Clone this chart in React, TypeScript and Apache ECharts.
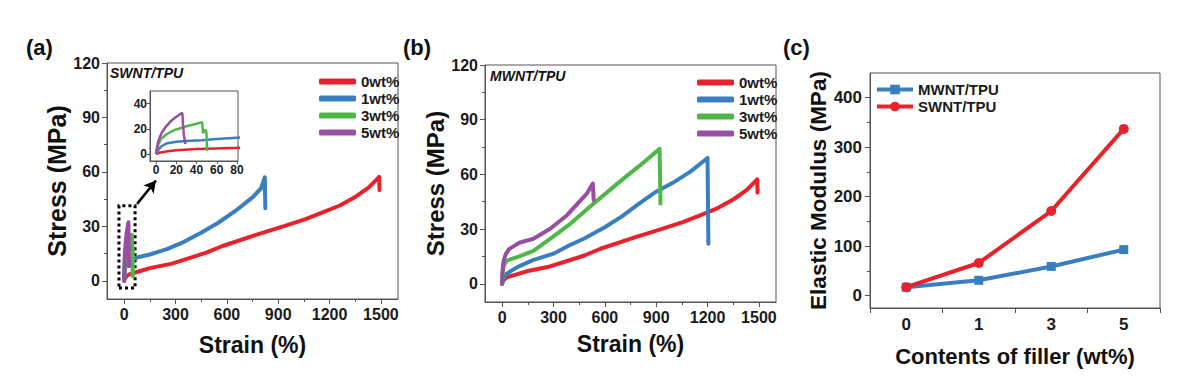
import React, { useEffect, useRef } from 'react';
import * as echarts from 'echarts';

const FONT = 'Liberation Sans, Arial, Helvetica, sans-serif';

const wtLabels = ['0wt%', '1wt%', '3wt%', '5wt%'];
const wtColors = ['#e8222b', '#3a7ec2', '#4fb748', '#984fa2'];

// neat TPU (0 wt%), same sample in (a) and (b)
const neatTPU: number[][] = [
  [0, 0], [3, 1], [10, 2], [20, 3], [40, 4], [60, 4.5], [80, 5], [150, 7], [280, 9.5],
  [380, 12.5], [480, 15.5], [575, 19.2], [770, 25.3], [930, 30], [1060, 34], [1160, 37.7],
  [1260, 41.5], [1355, 46.5], [1430, 51.5], [1490, 57.3], [1492, 50],
];
const swnt1: number[][] = [
  [0, 0], [2, 3], [5, 6], [10, 8.3], [20, 9.8], [30, 10.3], [45, 11], [60, 12], [80, 13],
  [150, 14.5], [250, 17.5], [350, 21.5], [450, 26.5], [550, 32], [650, 38.5], [750, 46],
  [800, 51], [822, 57], [825, 40],
];
const swnt3: number[][] = [
  [0, 0], [1, 5], [3, 9], [5, 12], [10, 15.5], [15, 17.8], [20, 19.5], [30, 22], [40, 24],
  [45.5, 25.3], [46.5, 16.5], [47.5, 18.5], [49, 19.2], [49.8, 17], [50.5, 2.5],
];
const swnt5: number[][] = [
  [0, 0], [1, 5], [2, 9.5], [4, 14], [6, 17.5], [10, 22], [15, 26.5], [20, 29.5], [25, 32.3],
  [26, 32.5], [26.5, 25], [27.5, 15], [29, 8],
];
const mwnt1: number[][] = [
  [0, 0], [10, 3], [27, 5.5], [86, 9], [180, 13], [300, 16.5], [380, 20.5], [477, 24.7],
  [600, 31], [700, 37], [800, 44], [900, 50.5], [1000, 55.5], [1100, 61.5], [1200, 69], [1205, 22],
];
const mwnt3: number[][] = [
  [0, 0], [3, 6], [10, 10], [27, 12.7], [100, 15], [183, 18], [300, 26], [400, 33],
  [535, 44], [700, 57], [800, 64.5], [920, 74], [925, 44],
];
const mwnt5: number[][] = [
  [0, 0], [2, 6], [5, 10], [10, 13], [20, 16], [40, 19], [66, 20.5], [100, 22.5],
  [183, 24.7], [281, 30.2], [379, 37.6], [496, 49.6], [530, 55], [535, 46],
];

const fillerCats = ['0', '1', '3', '5'];
const mwntModulus = [17, 31, 59, 93];
const swntModulus = [17, 66, 171, 337];

const strainTicks = [0, 300, 600, 900, 1200, 1500];
const strainMinor = [150, 450, 750, 1050, 1350];
const stressTicks = [0, 30, 60, 90, 120];
const stressMinor = [15, 45, 75, 105];
const insetXTicks = [0, 20, 40, 60, 80];
const insetYTicks = [0, 20, 40];
const modulusTicks = [0, 100, 200, 300, 400];
const modulusMinor = [50, 150, 250, 350];

const AX = '#555';
const LBL = { fontFamily: FONT, fontWeight: 'bold' as const, color: '#1a1a1a' };
const plain = (v: number) => String(v);

function mainAxis(gridIndex: number, min: number, max: number, ticks: number[], isY: boolean,
  opts: { name?: string; nameGap?: number; nameSize?: number; fontSize?: number; margin?: number; tickLen?: number }) {
  return {
    type: 'value', gridIndex, min, max, position: isY ? 'left' : 'bottom',
    name: opts.name, nameLocation: 'middle', nameGap: opts.nameGap,
    nameTextStyle: { ...LBL, fontSize: opts.nameSize ?? 22, color: '#111' },
    axisLine: { show: true, onZero: false, lineStyle: { color: AX, width: 1 } },
    axisTick: { show: true, length: opts.tickLen ?? 5, customValues: ticks, lineStyle: { color: AX } },
    axisLabel: { show: true, customValues: ticks, formatter: plain, margin: opts.margin ?? 7, fontSize: opts.fontSize ?? 16, ...LBL },
    splitLine: { show: false },
  };
}
function minorAxis(gridIndex: number, min: number, max: number, ticks: number[], isY: boolean) {
  return {
    type: 'value', gridIndex, min, max, position: isY ? 'left' : 'bottom',
    axisLine: { show: false, onZero: false },
    axisTick: { show: true, length: 3, customValues: ticks, lineStyle: { color: AX } },
    axisLabel: { show: false },
    splitLine: { show: false },
  };
}

function curve(name: string, color: string, data: number[][], xi: number, yi: number, extra: any = {}) {
  return {
    type: 'line', name, data, xAxisIndex: xi, yAxisIndex: yi, showSymbol: false, symbol: 'none',
    color, lineStyle: { width: 4, color, cap: 'round', join: 'round' }, silent: true, ...extra,
  };
}

export default function App() {
  const ref = useRef<HTMLDivElement>(null);
  useEffect(() => {
    const chart = echarts.init(ref.current!, null, { renderer: 'svg' });
    const gridStyle = { show: true, borderColor: AX, borderWidth: 1, backgroundColor: 'transparent' };
    const legendCommon = {
      orient: 'vertical', icon: 'roundRect', itemWidth: 37, itemHeight: 6, itemGap: 2,
      textStyle: { ...LBL, fontSize: 15 }, selectedMode: false,
    };
    const option: any = {
      animation: false,
      textStyle: { fontFamily: FONT },
      grid: [
        { left: 107, top: 63, width: 291, height: 236, ...gridStyle },
        { left: 485, top: 65, width: 291, height: 237, ...gridStyle },
        { left: 150, top: 91, width: 88, height: 70, ...gridStyle, backgroundColor: '#fff' },
        { left: 870, top: 73, width: 290, height: 235, ...gridStyle },
      ],
      xAxis: [
        mainAxis(0, -100, 1600, strainTicks, false, { name: 'Strain (%)', nameGap: 34, nameSize: 23 }),
        minorAxis(0, -100, 1600, strainMinor, false),
        mainAxis(1, -100, 1600, strainTicks, false, { name: 'Strain (%)', nameGap: 30, nameSize: 23 }),
        minorAxis(1, -100, 1600, strainMinor, false),
        mainAxis(2, -6, 81, insetXTicks, false, { fontSize: 12, margin: 3, tickLen: 3 }),
        {
          type: 'category', gridIndex: 3, data: fillerCats, boundaryGap: true, position: 'bottom',
          name: 'Contents of filler (wt%)', nameLocation: 'middle', nameGap: 37,
          nameTextStyle: { ...LBL, fontSize: 22, color: '#111' },
          axisLine: { show: true, onZero: false, lineStyle: { color: AX } },
          axisTick: { show: true, length: 5, lineStyle: { color: AX } },
          axisLabel: { margin: 8, fontSize: 17, ...LBL },
          splitLine: { show: false },
        },
      ],
      yAxis: [
        mainAxis(0, -10, 120, stressTicks, true, { name: 'Stress (MPa)', nameGap: 36, nameSize: 25 }),
        minorAxis(0, -10, 120, stressMinor, true),
        mainAxis(1, -10, 120, stressTicks, true, { name: 'Stress (MPa)', nameGap: 35, nameSize: 24 }),
        minorAxis(1, -10, 120, stressMinor, true),
        mainAxis(2, -5.5, 50, insetYTicks, true, { fontSize: 12, margin: 3, tickLen: 3 }),
        mainAxis(3, -25, 450, modulusTicks, true, { name: 'Elastic Modulus (MPa)', nameGap: 37, nameSize: 22.5, margin: 8, fontSize: 17 }),
        minorAxis(3, -25, 450, modulusMinor, true),
      ],
      legend: [
        { ...legendCommon, left: 314, top: 69, data: wtLabels },
        { ...legendCommon, left: 692, top: 70, data: wtLabels },
        {
          orient: 'vertical', left: 870, top: 77, itemWidth: 36, itemHeight: 12, itemGap: 2,
          textStyle: { ...LBL, fontSize: 15 }, selectedMode: false,
          lineStyle: { width: 4 }, itemStyle: { borderWidth: 0 },
          data: ['MWNT/TPU', 'SWNT/TPU'],
        },
      ],
      graphic: [
        { type: 'text', left: 26, top: 36, style: { text: '(a)', font: `bold 22px ${FONT}`, fill: '#111' } },
        { type: 'text', left: 403, top: 36, style: { text: '(b)', font: `bold 22px ${FONT}`, fill: '#111' } },
        { type: 'text', left: 783, top: 36, style: { text: '(c)', font: `bold 22px ${FONT}`, fill: '#111' } },
        { type: 'text', left: 110, top: 66, style: { text: 'SWNT/TPU', font: `italic bold 14px ${FONT}`, fill: '#111' } },
        { type: 'text', left: 490, top: 69, style: { text: 'MWNT/TPU', font: `italic bold 14px ${FONT}`, fill: '#111' } },
      ],
      series: [
        curve('0wt%', wtColors[0], neatTPU, 0, 0, {
          markArea: {
            silent: true, label: { show: false },
            itemStyle: { color: 'rgba(0,0,0,0)', borderColor: '#000', borderWidth: 3, borderType: [3, 3] },
            data: [[{ coord: [-30, -4] }, { coord: [64, 41.3] }]],
          },
          markLine: {
            silent: true, symbol: ['none', 'arrow'], symbolSize: [10, 12], label: { show: false },
            lineStyle: { color: '#000', width: 2.5, type: 'solid' },
            data: [[{ coord: [76, 42.4] }, { coord: [186, 55.3] }]],
          },
        }),
        curve('1wt%', wtColors[1], swnt1, 0, 0),
        curve('3wt%', wtColors[2], swnt3, 0, 0),
        curve('5wt%', wtColors[3], swnt5, 0, 0),
        curve('0wt%', wtColors[0], neatTPU, 2, 2),
        curve('1wt%', wtColors[1], mwnt1, 2, 2),
        curve('3wt%', wtColors[2], mwnt3, 2, 2),
        curve('5wt%', wtColors[3], mwnt5, 2, 2),
        curve('0wt%', wtColors[0], neatTPU, 4, 4, { lineStyle: { width: 2.5, color: wtColors[0] } }),
        curve('1wt%', wtColors[1], swnt1, 4, 4, { lineStyle: { width: 2.5, color: wtColors[1] } }),
        curve('3wt%', wtColors[2], swnt3, 4, 4, { lineStyle: { width: 2.5, color: wtColors[2] } }),
        curve('5wt%', wtColors[3], swnt5, 4, 4, { lineStyle: { width: 2.5, color: wtColors[3] } }),
        {
          type: 'line', name: 'MWNT/TPU', data: mwntModulus, xAxisIndex: 5, yAxisIndex: 5,
          symbol: 'rect', symbolSize: 9, color: wtColors[1],
          lineStyle: { width: 4, color: wtColors[1] }, itemStyle: { color: wtColors[1] }, silent: true,
        },
        {
          type: 'line', name: 'SWNT/TPU', data: swntModulus, xAxisIndex: 5, yAxisIndex: 5,
          symbol: 'circle', symbolSize: 10, color: wtColors[0],
          lineStyle: { width: 4, color: wtColors[0] }, itemStyle: { color: wtColors[0] }, silent: true,
        },
      ],
    };
    chart.setOption(option);
    return () => chart.dispose();
  }, []);
  return <div ref={ref} style={{ position: 'absolute', left: 0, top: 0, width: 1182, height: 386, background: '#fff' }} />;
}
